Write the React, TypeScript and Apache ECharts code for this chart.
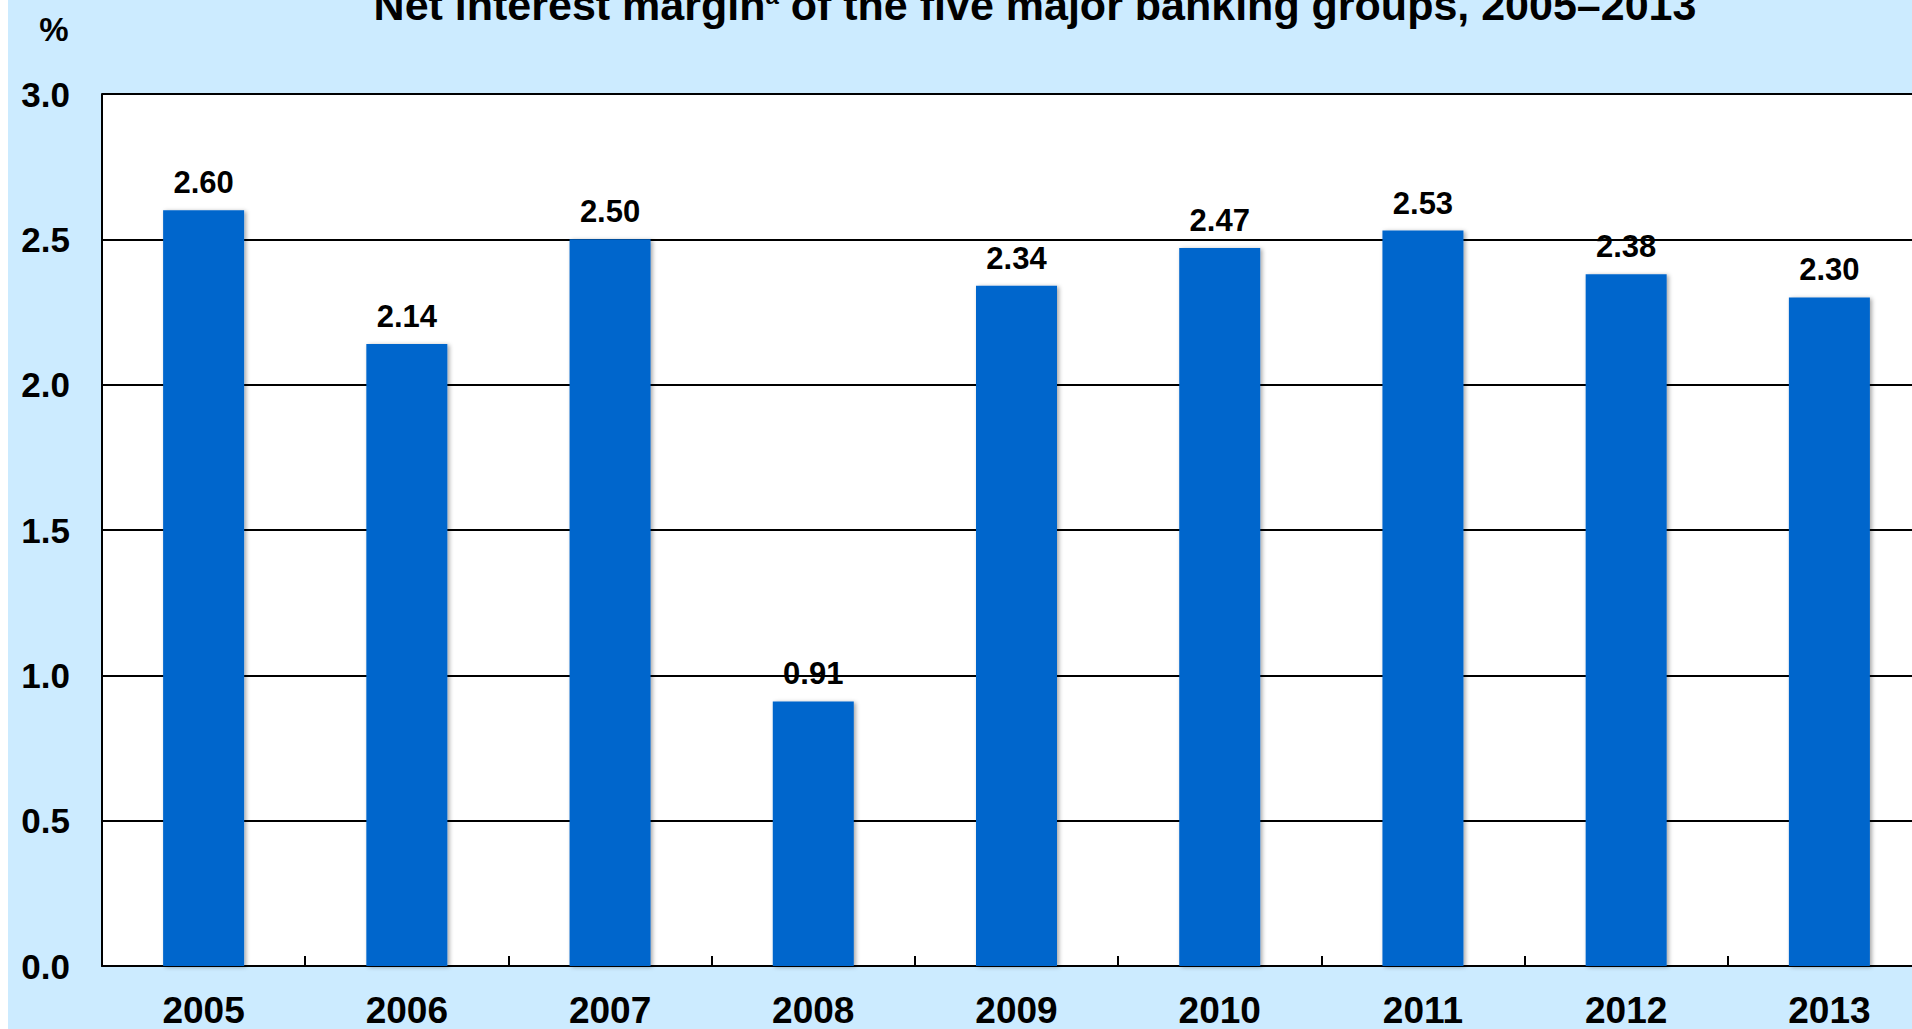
import React, { useEffect, useRef } from "react";
import * as echarts from "echarts";

const categories = ["2005", "2006", "2007", "2008", "2009", "2010", "2011", "2012", "2013"];
const marginValues = [2.6, 2.14, 2.5, 0.91, 2.34, 2.47, 2.53, 2.38, 2.3];
const yTicks = [0, 0.5, 1.0, 1.5, 2.0, 2.5, 3.0];
const titleText = "Net interest margin{sup|a} of the five major banking groups, 2005–2013";
const unitLabel = "%";

const FONT = "'Liberation Sans', Arial, sans-serif";

export default function App() {
  const ref = useRef<HTMLDivElement>(null);
  useEffect(() => {
    if (!ref.current) return;
    const chart = echarts.init(ref.current, null, { renderer: "svg" });
    chart.setOption({
      animation: false,
      backgroundColor: "#CCEBFF",
      grid: {
        left: 94,
        right: 0,
        top: 94,
        bottom: 61,
        show: true,
        backgroundColor: "#ffffff",
        borderWidth: 0,
        containLabel: false,
      },
      graphic: [
        {
          type: "text",
          x: 1027,
          y: 26,
          style: {
            text: titleText,
            fill: "#000",
            fontFamily: FONT,
            fontWeight: "bold",
            fontSize: 43,
            align: "center",
            verticalAlign: "bottom",
            rich: {
              sup: {
                fontSize: 24,
                fontWeight: "bold",
                verticalAlign: "top",
                fontFamily: FONT,
              },
            },
          },
        },
        {
          type: "text",
          x: 46,
          y: 29,
          style: {
            text: unitLabel,
            fill: "#000",
            fontFamily: FONT,
            fontWeight: "bold",
            fontSize: 33,
            align: "center",
            verticalAlign: "middle",
          },
        },
      ],
      xAxis: {
        type: "category",
        data: categories,
        axisLine: { show: true, lineStyle: { color: "#000", width: 2 } },
        axisTick: { show: true, inside: true, length: 10, lineStyle: { color: "#000", width: 2 } },
        axisLabel: {
          color: "#000",
          fontFamily: FONT,
          fontWeight: "bold",
          fontSize: 37,
          margin: 26,
        },
        splitLine: { show: false },
      },
      yAxis: {
        type: "value",
        min: 0,
        max: 3,
        interval: 0.5,
        axisLine: { show: true, lineStyle: { color: "#000", width: 2 } },
        axisTick: { show: false },
        axisLabel: {
          color: "#000",
          fontFamily: FONT,
          fontWeight: "bold",
          fontSize: 35,
          margin: 32,
          formatter: (v: number) => {
            const t = yTicks.find((x) => Math.abs(x - v) < 1e-9);
            return (t !== undefined ? t : v).toFixed(1);
          },
        },
        splitLine: { show: true, lineStyle: { color: "#000", width: 2 } },
      },
      series: [
        {
          type: "bar",
          data: marginValues,
          barWidth: 81,
          itemStyle: {
            color: "#0066CC",
            shadowColor: "rgba(0,0,0,0.35)",
            shadowBlur: 4,
            shadowOffsetX: 2,
            shadowOffsetY: 1,
          },
          label: {
            show: true,
            position: "top",
            distance: 12,
            color: "#000",
            fontFamily: FONT,
            fontWeight: "bold",
            fontSize: 31,
            formatter: (p: any) => Number(p.value).toFixed(2),
          },
        },
      ],
    });
    return () => chart.dispose();
  }, []);
  return (
    <div
      style={{
        position: "absolute",
        left: 8,
        top: 0,
        width: 1904,
        height: 1029,
        overflow: "hidden",
      }}
    >
      <div ref={ref} style={{ width: 1923, height: 1029 }} />
    </div>
  );
}
